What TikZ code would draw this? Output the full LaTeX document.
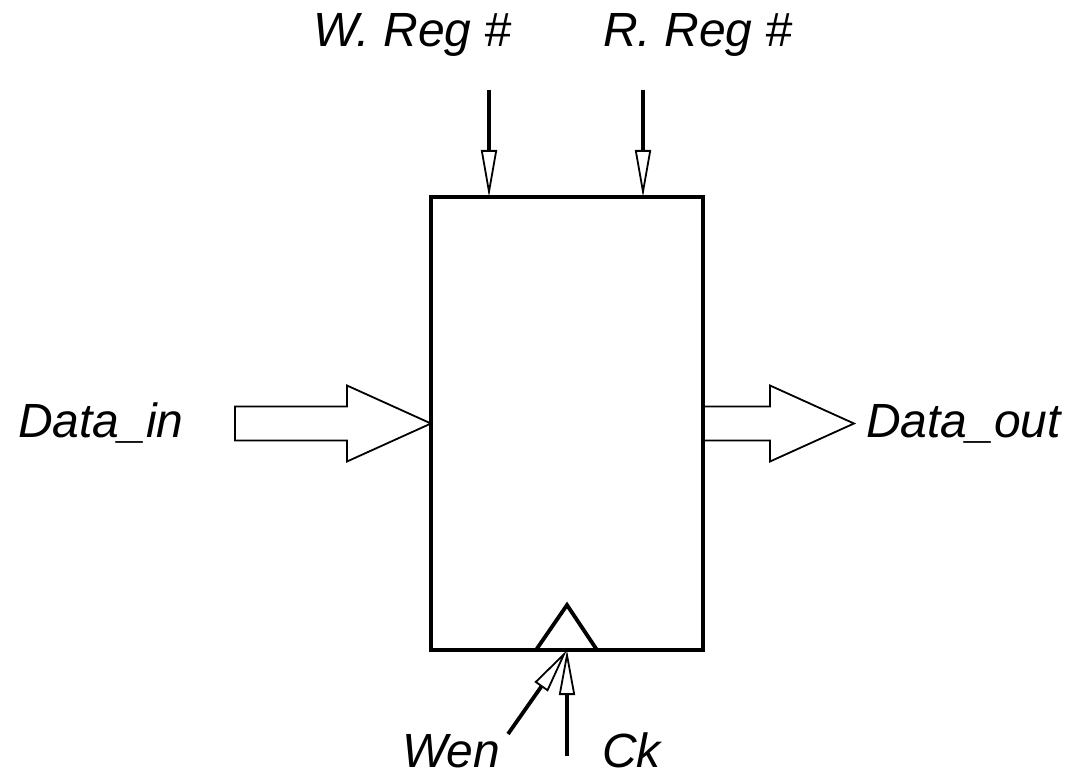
\documentclass[tikz,border=0pt]{standalone}
\usepackage{fontspec}
\setmainfont{Liberation Sans}
\usetikzlibrary{arrows.meta}
\tikzset{
  lbl/.style={font=\fontsize{48}{56}\selectfont\itshape, inner sep=0pt, anchor=base west},
  regbox/.style={draw, line width=3.8pt, minimum width=272pt, minimum height=453pt, inner sep=0pt, outer sep=0pt},
  sigarrow/.style={line width=4pt, -{Triangle[open, length=47pt, width=16pt, line width=1.8pt]}},
  clkarrow/.style={line width=3.8pt, -{Triangle[open, length=45pt, width=16pt, line width=1.8pt]}},
  blockarrow/.style={line width=1.8pt, line join=miter},
  clk/.style={line width=3.8pt, line join=miter}
}
\begin{document}
\begin{tikzpicture}[x=1pt,y=-1pt]
\useasboundingbox (0,0) rectangle (1084,781);
\node[regbox] (reg) at (567,423.5) {};
% labels
\node[lbl] (wreg) at (313,47) {W. Reg \#};
\node[lbl] (rreg) at (603,47) {R. Reg \#};
\node[lbl] (din) at (18,437) {Data\_in};
\node[lbl] (dout) at (866,437) {Data\_out};
\node[lbl] (wen) at (402,767) {Wen};
\node[lbl] (ck) at (602,767) {Ck};
% top arrows
\coordinate (wtop) at (489,90);
\coordinate (rtop) at (643,90);
\draw[sigarrow] (wtop) -- (wtop |- reg.north);
\draw[sigarrow] (rtop) -- (rtop |- reg.north);
% data in block arrow
\draw[blockarrow] (reg.west) -- ++(-84,-38) -- ++(0,21) -- ++(-112,0) -- ++(0,34) -- ++(112,0) -- ++(0,21) -- cycle;
% data out block arrow
\draw[blockarrow] (reg.east) ++(0,-17) -- ++(67,0) -- ++(0,-21) -- ++(84,38) -- ++(-84,38) -- ++(0,-21) -- ++(-67,0);
% clock triangle
\draw[clk] (reg.south) ++(-31,0) -- ++(31,-45) -- ++(30,45);
% wen and ck
\coordinate (wenend) at (508,734);
\coordinate (ckend) at (567,756);
\draw[clkarrow] (wenend) -- (reg.south);
\draw[clkarrow] (ckend) -- (reg.south);
\end{tikzpicture}
\end{document}
